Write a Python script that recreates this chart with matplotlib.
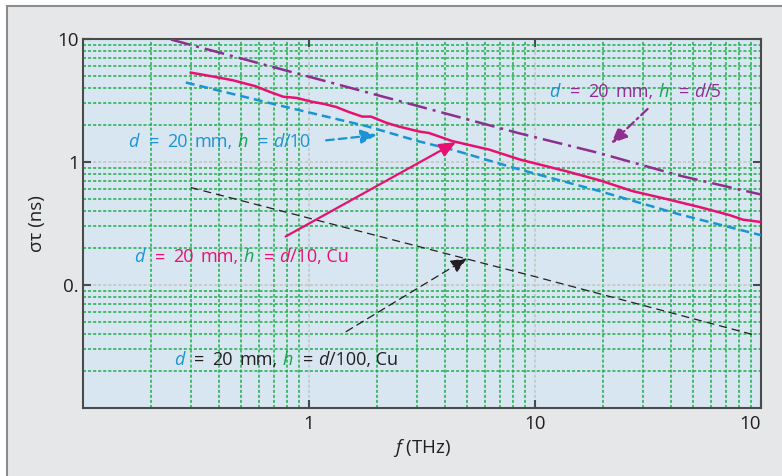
import numpy as np
import matplotlib
matplotlib.use('Agg')
import matplotlib.pyplot as plt
from matplotlib.patches import Rectangle
from matplotlib.ticker import LogLocator, NullFormatter

plt.rcParams['font.family'] = ['Open Sans', 'DejaVu Sans']
plt.rcParams['mathtext.fontset'] = 'custom'
plt.rcParams['mathtext.rm'] = 'Open Sans'
plt.rcParams['mathtext.it'] = 'Open Sans:italic'

# ---------------- data ----------------
f_cu10 = [0.30, 0.37, 0.46, 0.58, 0.67, 0.77, 0.88, 1.03, 1.17, 1.32, 1.50, 1.72, 1.88,
          2.19, 2.50, 3.07, 3.40, 4.30, 6.28, 8.53, 13.8, 19.3, 27.0, 38.2, 53.5, 72.6, 83.0, 100]
s_cu10 = [5.33, 4.98, 4.62, 4.13, 3.72, 3.39, 3.32, 3.09, 2.96, 2.80, 2.55, 2.34, 2.34,
          2.09, 1.94, 1.77, 1.72, 1.48, 1.26, 1.05, 0.84, 0.71, 0.58, 0.50, 0.43, 0.37, 0.34, 0.325]

f_d10 = [0.285, 0.76, 1.79, 3.07, 4.30, 8.53, 19.3, 43.6, 100]
s_d10 = [4.43, 2.85, 1.96, 1.47, 1.26, 0.87, 0.58, 0.375, 0.254]

f_d5 = [0.245, 3.77, 8.53, 19.3, 43.6, 100]
s_d5 = [9.9, 2.56, 1.71, 1.18, 0.775, 0.544]

f_d100 = [0.30, 10, 95.7]
s_d100 = [0.62, 0.117, 0.0388]

xticks = [1, 10, 100]
xticklabels = ['1', '10', '10']
yticks = [0.1, 1, 10]
yticklabels = ['0.', '1', '10']

# ---------------- colours ----------------
MAG = '#e8116f'
BLU = '#1b93d5'
PUR = '#8e2f8f'
GRN = '#15a54a'
DRK = '#231f20'
FS = 13      # annotation text
FST = 13.5   # ticks / axis labels

fig = plt.figure(figsize=(7.82, 4.76), dpi=100, facecolor='white')
frame = Rectangle((7 / 782, -0.3), 1.2, 0.3 + 1 - 6 / 476, transform=fig.transFigure,
                  facecolor='#e6e7e9', edgecolor='#8c8c8c', lw=1.5, zorder=-10)
fig.patches.append(frame)

ax = fig.add_axes([83 / 782, 1 - 408 / 476, (761 - 83) / 782, (408 - 39) / 476])
ax.set_facecolor('#d7e6f1')
ax.set_xscale('log')
ax.set_yscale('log')
ax.set_xlim(0.1, 100)
ax.set_ylim(0.01, 10)

ax.xaxis.set_minor_locator(LogLocator(base=10, subs=np.arange(2, 10)))
ax.yaxis.set_minor_locator(LogLocator(base=10, subs=np.arange(2, 10)))
ax.xaxis.set_minor_formatter(NullFormatter())
ax.yaxis.set_minor_formatter(NullFormatter())

ax.set_xticks(xticks, xticklabels)
ax.set_yticks(yticks, yticklabels)
ax.get_xticklabels()[2].set_ha('right')

ax.tick_params(which='major', direction='in', length=6, width=1.5, color='#4a4a4a',
               top=True, right=True, labelsize=FST, labelcolor=DRK)
ax.tick_params(axis='x', which='major', pad=5)
ax.tick_params(axis='y', which='major', pad=3)
ax.tick_params(which='minor', length=0, top=True, right=True)

ax.grid(which='major', color='#c4c4c4', lw=1.1, linestyle=(0, (2.0, 1.3)), zorder=0)
ax.grid(which='minor', color='#1fae4a', lw=1.1, linestyle=(0, (2.0, 1.3)), zorder=0)
ax.set_axisbelow(True)

for sp in ax.spines.values():
    sp.set_color('#4a4a4a')
    sp.set_linewidth(1.5)

# ---------------- curves ----------------
ax.plot(f_d5, s_d5, color=PUR, lw=1.8, linestyle=(0, (8, 2.4, 1.2, 2.4)), zorder=3)
ax.plot(f_cu10, s_cu10, color=MAG, lw=1.8, zorder=4)
ax.plot(f_d10, s_d10, color=BLU, lw=1.8, linestyle=(0, (3.6, 2.0)), zorder=3)
ax.plot(f_d100, s_d100, color=DRK, lw=0.9, linestyle=(0, (6.4, 4)), zorder=3)

# ---------------- arrows ----------------
def arrow(tail, tip, color, lw, ls):
    ax.annotate('', xy=tip, xytext=tail,
                arrowprops=dict(arrowstyle='-|>,head_length=0.7,head_width=0.3',
                                color=color, lw=lw, linestyle=ls,
                                shrinkA=0, shrinkB=0, mutation_scale=14),
                zorder=5)

arrow((1.19, 1.50), (2.00, 1.66), BLU, 1.6, (0, (3.5, 2.2)))
arrow((0.788, 0.248), (4.47, 1.45), MAG, 1.6, '-')
arrow((31.5, 2.70), (21.7, 1.41), PUR, 1.6, (0, (4, 1.8, 1, 1.8)))
arrow((1.46, 0.0418), (5.0, 0.1646), DRK, 0.9, (0, (6, 4)))

# ---------------- multi-coloured labels ----------------
# gap (pixels) before each piece, measured ink-to-ink in the reference
GAPS = [0, 10, 8, 7, 5, 10, 5, 0]

def rich(x, y, parts):
    t = None
    for (s, c, st), gap in zip(parts, GAPS):
        if t is None:
            t = ax.text(x, y, s, color=c, style=st, fontsize=FS,
                        va='baseline', ha='left', zorder=6)
        else:
            t = ax.annotate(s, xycoords=t, xy=(1, 0), xytext=(gap * 0.72, 0),
                            textcoords='offset points', va='bottom', ha='left',
                            color=c, style=st, fontsize=FS, zorder=6)

def label_parts(col, tail):
    return [('d', BLU, 'italic'), ('=', col, 'normal'), ('20', col, 'normal'),
            ('mm,', col, 'normal'), ('h', GRN, 'italic'), ('=', col, 'normal'),
            ('d', col, 'italic'), (tail, col, 'normal')]

rich(0.159, 1.33, label_parts(BLU, '/10'))
rich(11.6, 3.39, label_parts(PUR, '/5'))
rich(0.169, 0.153, label_parts(MAG, '/10, Cu'))
rich(0.252, 0.0223, label_parts(DRK, '/100, Cu'))

ax.set_xlabel(r'$\mathit{f}$ (THz)', fontsize=FST, color=DRK, labelpad=3)
ax.set_ylabel('στ (ns)', fontsize=FST, color=DRK, labelpad=8)

fig.savefig('out.png', dpi=100, facecolor='white')
